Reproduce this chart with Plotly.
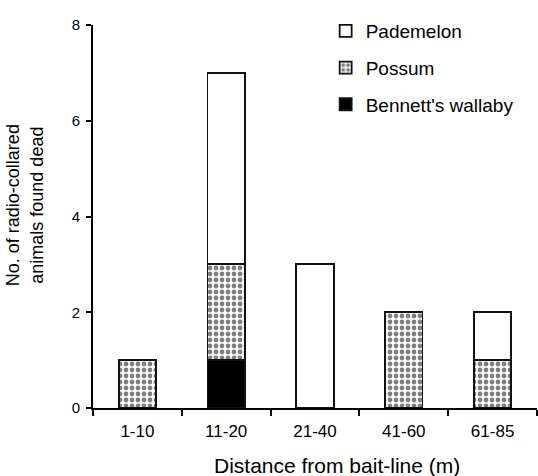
import plotly.graph_objects as go

categories = ["1-10", "11-20", "21-40", "41-60", "61-85"]
wallaby = [0, 1, 0, 0, 0]
possum = [1, 2, 0, 2, 1]
pademelon = [0, 4, 3, 0, 1]
y_ticks = [0, 2, 4, 6, 8]

FONT = "Liberation Sans, Arial, sans-serif"
line = dict(color="#111111", width=1.8)

fig = go.Figure()
fig.add_bar(x=categories, y=wallaby, name="Bennett's wallaby", legendgroup="w", legendrank=3,
            marker=dict(color="black", line=line))
fig.add_bar(x=categories, y=possum, name="Possum", legendgroup="p", legendrank=2,
            marker=dict(color="white", line=line,
                        pattern=dict(shape=".", fgcolor="black", bgcolor="white",
                                     size=6, solidity=0.5, fillmode="overlay")))
fig.add_bar(x=categories, y=pademelon, name="Pademelon", legendgroup="d", legendrank=1,
            marker=dict(color="white", line=line))

fig.update_layout(
    width=538, height=476,
    barmode="stack", bargap=0.58,
    paper_bgcolor="white", plot_bgcolor="white",
    margin=dict(l=93, r=1, t=25, b=68),
    font=dict(family=FONT, color="black"),
    legend=dict(x=0.524, y=1.034, xanchor="left", yanchor="top",
                traceorder="grouped", tracegroupgap=9,
                font=dict(size=19, family=FONT), bgcolor="rgba(0,0,0,0)"),
    xaxis=dict(
        type="category", range=[-0.5, 4.5],
        showline=True, linecolor="black", linewidth=1.8,
        ticks="outside", tickson="boundaries", ticklen=6, tickcolor="black", tickwidth=1.5,
        tickfont=dict(size=17, family=FONT), ticklabelstandoff=7,
        showgrid=False, zeroline=False,
    ),
    yaxis=dict(
        range=[0, 8], tickvals=y_ticks,
        showline=True, linecolor="black", linewidth=1.8,
        ticks="outside", ticklen=5, tickcolor="black", tickwidth=1.5,
        tickfont=dict(size=15, family=FONT), ticklabelstandoff=3,
        showgrid=False, zeroline=False,
    ),
    annotations=[
        dict(text="Distance from bait-line (m)", xref="paper", yref="paper",
             x=0.55, y=-0.149, xanchor="center", yanchor="middle", showarrow=False,
             font=dict(size=21, family=FONT)),
        dict(text="No. of radio-collared<br>animals found dead", xref="paper", yref="paper",
             x=-0.155, y=0.53, xanchor="center", yanchor="middle", showarrow=False,
             textangle=-90, font=dict(size=18, family=FONT)),
    ],
)

# remove the page's default body margin so the figure starts at the window's corner
fig.write_html("out.html", config={"displayModeBar": False},
               post_script="document.body.style.margin='0';")
